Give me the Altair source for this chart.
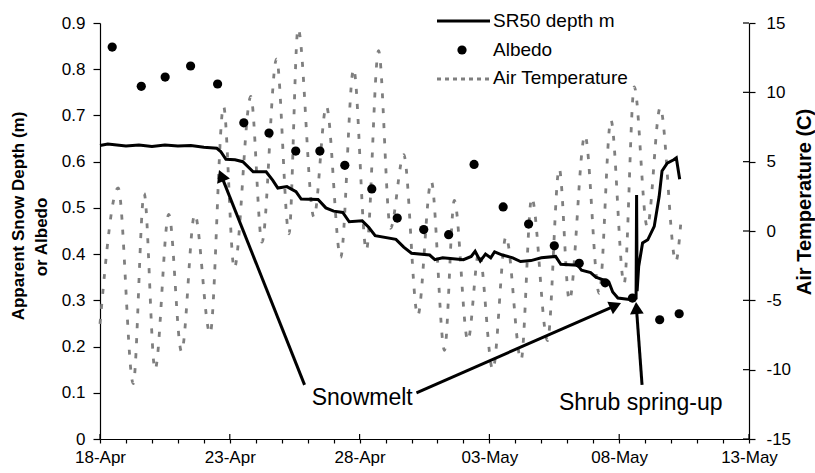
import altair as alt
import pandas as pd

FONT = "Liberation Sans"
BASE = pd.Timestamp("2009-04-18")

# ---- data (days after 18-Apr 00:00) ----
sr50_day = [0.0, 0.3, 1.0, 1.5, 2.0, 2.5, 3.0, 3.5, 4.0, 4.5, 4.65, 4.85, 5.2, 5.5, 5.9,
            6.4, 6.65, 6.85, 7.2, 7.55, 7.75, 8.4, 8.7, 9.0, 9.35, 9.6, 10.1, 10.35, 10.6,
            11.4, 11.7, 12.0, 12.7, 12.9, 13.2, 14.0, 14.3, 14.45, 14.65, 14.85, 15.05, 15.2,
            15.5, 15.9, 16.2, 16.6, 17.0, 17.55, 17.75, 18.4, 18.55, 18.9, 19.1, 19.6, 19.75,
            19.95, 20.4, 20.65, 20.67, 20.69, 20.75, 20.9, 21.1, 21.35, 21.54, 21.65, 21.85,
            22.1, 22.2, 22.33]
sr50_val = [0.635, 0.638, 0.634, 0.636, 0.633, 0.636, 0.634, 0.635, 0.631, 0.629, 0.622, 0.605,
            0.604, 0.600, 0.578, 0.578, 0.560, 0.543, 0.546, 0.535, 0.519, 0.518, 0.500, 0.493,
            0.490, 0.470, 0.472, 0.458, 0.440, 0.432, 0.415, 0.402, 0.398, 0.388, 0.392, 0.388,
            0.395, 0.406, 0.385, 0.400, 0.392, 0.405, 0.398, 0.392, 0.384, 0.386, 0.392, 0.395,
            0.378, 0.376, 0.365, 0.360, 0.350, 0.340, 0.318, 0.305, 0.302, 0.305, 0.528, 0.320,
            0.373, 0.424, 0.431, 0.460, 0.525, 0.580, 0.597, 0.604, 0.608, 0.562]

albedo_day = [0.47, 1.59, 2.51, 3.49, 4.53, 5.54, 6.51, 7.54, 8.47, 9.43, 10.47, 11.45,
              12.47, 13.43, 14.41, 15.53, 16.51, 17.50, 18.46, 19.46, 20.51, 21.56, 22.31]
albedo_val = [0.848, 0.763, 0.783, 0.807, 0.768, 0.684, 0.662, 0.623, 0.623, 0.592, 0.541, 0.478,
              0.453, 0.442, 0.594, 0.502, 0.465, 0.418, 0.380, 0.338, 0.305, 0.258, 0.271]

temp_day = [0.0, 0.70, 1.28, 1.70, 2.12, 2.65, 3.14, 3.65, 4.24, 4.76, 5.17, 5.81, 6.24, 6.80,
            7.28, 7.63, 8.24, 8.72, 9.27, 9.77, 10.26, 10.73, 11.19, 11.70, 12.24, 12.76, 13.27,
            13.65, 14.17, 14.6, 15.13, 15.64, 16.22, 16.63, 17.24, 17.69, 18.08, 18.68, 19.23,
            19.68, 20.19, 20.58, 21.08, 21.58, 22.18, 22.40]
temp_val = [-6.7, 3.1, -11.0, 2.7, -10.0, 1.2, -8.7, 1.2, -7.4, 9.0, -2.7, 9.7, -0.8, 12.4,
            -0.2, 14.6, 1.0, 9.0, -1.9, 11.7, -1.4, 13.0, 0.2, 5.5, -6.1, 3.6, -8.6,
            2.2, -7.9, -1.5, -10.0, -0.4, -9.3, 2.4, -7.9, 4.5, -5.0, 6.9, -4.5,
            8.0, -3.8, 10.4, 0.3, 8.9, -2.2, 1.2]

legend_labels = ["SR50 depth m", "Albedo", "Air Temperature"]

# annotations: arrow tail -> head (days, left-axis value)
arrow_tail_day = [7.88, 12.19, 20.88]
arrow_tail_val = [0.117, 0.100, 0.117]
arrow_head_day = [4.70, 19.79, 20.67]
arrow_head_val = [0.566, 0.287, 0.279]
arrow_angle = [338, 66, 356]
note_text = ["Snowmelt", "Shrub spring-up"]
note_day = [10.1, 20.83]
note_val = [0.074, 0.063]

left_ticks = [round(0.1 * i, 1) for i in range(10)]
right_ticks = [-15, -10, -5, 0, 5, 10, 15]


def tt(days):
    return [BASE + pd.Timedelta(days=d) for d in days]


sr50_df = pd.DataFrame({"t": tt(sr50_day), "v": sr50_val})
alb_df = pd.DataFrame({"t": tt(albedo_day), "v": albedo_val})
temp_df = pd.DataFrame({"t": tt(temp_day), "temp": temp_val})
arrow_df = pd.DataFrame({"t": tt(arrow_tail_day), "v": arrow_tail_val,
                         "t2": tt(arrow_head_day), "v2": arrow_head_val})
head_df = pd.DataFrame({"t": tt(arrow_head_day), "v": arrow_head_val, "ang": arrow_angle})
note_df = pd.DataFrame({"t": tt(note_day), "v": note_val, "label": note_text})
days = pd.date_range("2009-04-18", "2009-05-13", freq="D")
major_df = pd.DataFrame({"t": [d for d in days if d.day % 5 == 3]})
rt_df = pd.DataFrame({"temp": right_ticks})
one = pd.DataFrame({"a": [0]})

xscale = alt.Scale(domain=[alt.DateTime(year=2009, month=4, date=18),
                           alt.DateTime(year=2009, month=5, date=13)])
xaxis = alt.Axis(values=[alt.DateTime(year=d.year, month=d.month, date=d.day) for d in days],
                 labelExpr="date(datum.value) % 5 == 3 ? timeFormat(datum.value, '%d-%b') : ''",
                 title=None, grid=False, tickSize=4, labelPadding=6, labelFlush=False,
                 labelOverlap=False)
X = alt.X("t:T", scale=xscale, axis=xaxis)
Y = alt.Y("v:Q", scale=alt.Scale(domain=[0, 0.9], nice=False, zero=False),
          axis=alt.Axis(orient="left", values=left_ticks, format=".1~f", title=None,
                        grid=False, tickSize=7, labelPadding=8))
YT = alt.Y("temp:Q", scale=alt.Scale(domain=[-15, 15], nice=False, zero=False),
           axis=alt.Axis(orient="right", values=right_ticks, labelExpr="'' + datum.value",
                         title=None, grid=False, tickSize=6, labelPadding=11))

temp_line = alt.Chart(temp_df).mark_line(
    color="#7f7f7f", strokeWidth=2.8, strokeDash=[5, 10], interpolate="monotone"
).encode(x=X, y=YT)
temp_ticks = alt.Chart(rt_df).mark_rule(color="black", strokeWidth=1.2).encode(
    y=YT, x=alt.value(643), x2=alt.value(649))
temp_group = alt.layer(temp_line, temp_ticks)

sr50_line = alt.Chart(sr50_df).mark_line(color="black", strokeWidth=3).encode(x=X, y=Y)
alb_pts = alt.Chart(alb_df).mark_circle(color="black", size=85, opacity=1).encode(x=X, y=Y)
major_ticks = alt.Chart(major_df).mark_rule(color="black", strokeWidth=1.2).encode(
    x=X, y=alt.value(411), y2=alt.value(416))
arrows = alt.Chart(arrow_df).mark_rule(color="black", strokeWidth=3).encode(
    x=X, y=Y, x2="t2:T", y2="v2:Q")
heads = alt.Chart(head_df).mark_point(shape="triangle", filled=True, size=190,
                                      color="black", opacity=1).encode(
    x=X, y=Y, angle=alt.Angle("ang:Q", scale=None))
notes = alt.Chart(note_df).mark_text(fontSize=23, font=FONT, align="center",
                                     baseline="alphabetic", color="black").encode(
    x=X, y=Y, text="label:N")

# legend
leg_line = alt.Chart(one).mark_rule(color="black", strokeWidth=3).encode(
    x=alt.value(337), x2=alt.value(390), y=alt.value(-2))
leg_dot = alt.Chart(one).mark_circle(color="black", size=85, opacity=1).encode(
    x=alt.value(362), y=alt.value(27))
leg_dash = alt.Chart(one).mark_rule(color="#7f7f7f", strokeWidth=2.8, strokeDash=[4, 4]).encode(
    x=alt.value(337), x2=alt.value(390), y=alt.value(56))
leg_text = [
    alt.Chart(one).mark_text(fontSize=19, font=FONT, align="left", baseline="middle",
                             color="black").encode(
        x=alt.value(393), y=alt.value(yy), text=alt.value(lab))
    for lab, yy in zip(legend_labels, [-2, 27, 55])
]

# axis titles
title_l1 = alt.Chart(one).mark_text(fontSize=17, font=FONT, fontWeight="bold", angle=270,
                                    align="center", baseline="middle", color="black").encode(
    x=alt.value(-81), y=alt.value(193), text=alt.value("Apparent Snow Depth (m)"))
title_l2 = alt.Chart(one).mark_text(fontSize=17, font=FONT, fontWeight="bold", angle=270,
                                    align="center", baseline="middle", color="black").encode(
    x=alt.value(-58), y=alt.value(214), text=alt.value("or Albedo"))
title_r = alt.Chart(one).mark_text(fontSize=20, font=FONT, fontWeight="bold", angle=270,
                                   align="center", baseline="middle", color="black").encode(
    x=alt.value(705), y=alt.value(179), text=alt.value("Air Temperature (C)"))

depth_group = alt.layer(sr50_line, alb_pts, major_ticks, arrows, heads, notes,
                        leg_line, leg_dot, leg_dash, *leg_text, title_l1, title_l2, title_r)

chart = alt.layer(temp_group, depth_group).resolve_scale(y="independent").properties(
    width=649, height=416,
    background="white",
    autosize=alt.AutoSizeParams(type="none"),
    padding={"left": 100, "top": 23, "right": 66, "bottom": 34},
).configure_view(stroke=None).configure_axis(
    labelFont=FONT, labelFontSize=17, labelColor="black", domainColor="black",
    tickColor="black", domainWidth=1.2, tickWidth=1.2
)

chart.save("out.html", embed_options={"renderer": "svg", "actions": False})
